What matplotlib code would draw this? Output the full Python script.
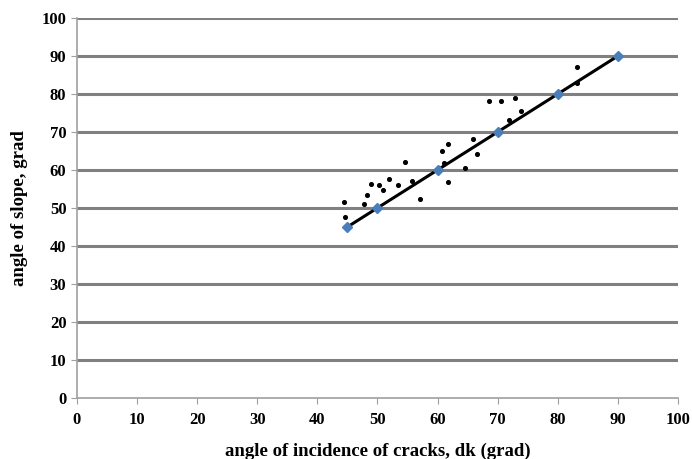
import matplotlib
matplotlib.use("Agg")
import matplotlib.pyplot as plt

# measured points (angle of incidence, angle of slope)
obs_x = [44.5, 44.6, 47.7, 48.3, 48.9, 50.2, 50.9, 51.9, 53.4, 54.5, 55.7, 57.0,
         60.8, 61.0, 61.7, 61.8, 64.5, 65.9, 66.5, 68.6, 70.6, 71.9, 72.8, 73.8,
         83.1, 83.1]
obs_y = [51.5, 47.7, 51.0, 53.4, 56.4, 56.1, 54.7, 57.5, 56.1, 62.0, 57.2, 52.4,
         65.0, 61.9, 56.7, 66.7, 60.5, 68.1, 64.2, 78.2, 78.2, 73.2, 78.8, 75.6,
         87.0, 83.0]

# reference line y = x
line_x = [45, 50, 60, 70, 80, 90]
line_y = [45, 50, 60, 70, 80, 90]

plt.rcParams['font.family'] = ['Liberation Serif', 'DejaVu Serif']

fig = plt.figure(figsize=(6.92, 4.59), dpi=100)
ax = fig.add_axes([0.111, 0.133, 0.869, 0.828])

for v in range(10, 101, 10):
    ax.axhline(v, color='#808080', lw=2.2, zorder=1)

ax.plot(line_x, line_y, color='black', lw=2.2, zorder=2)
ax.plot(line_x, line_y, ls='none', marker='D', ms=5.5, color='#4a7ebb', zorder=3)
ax.scatter(obs_x, obs_y, s=7, color='black', zorder=4)

ax.set_xlim(0, 100)
ax.set_ylim(0, 100)
ax.set_xticks(range(0, 101, 10))
ax.set_yticks(range(0, 101, 10))
for s in ['top', 'right']:
    ax.spines[s].set_visible(False)
for s in ['left', 'bottom']:
    ax.spines[s].set_color('#a0a0a0')
    ax.spines[s].set_linewidth(1.2)
ax.tick_params(axis='both', colors='#a0a0a0', length=4, labelcolor='black',
               labelsize=12)
ax.tick_params(axis='x', pad=6)
for lab in ax.get_xticklabels() + ax.get_yticklabels():
    lab.set_fontweight('bold')

ax.set_xlabel('angle of incidence of cracks, dk (grad)', fontsize=13.5,
              fontweight='bold', labelpad=11)
ax.set_ylabel('angle of slope, grad', fontsize=13.5, fontweight='bold', labelpad=10)

fig.savefig('out.png', dpi=100)
